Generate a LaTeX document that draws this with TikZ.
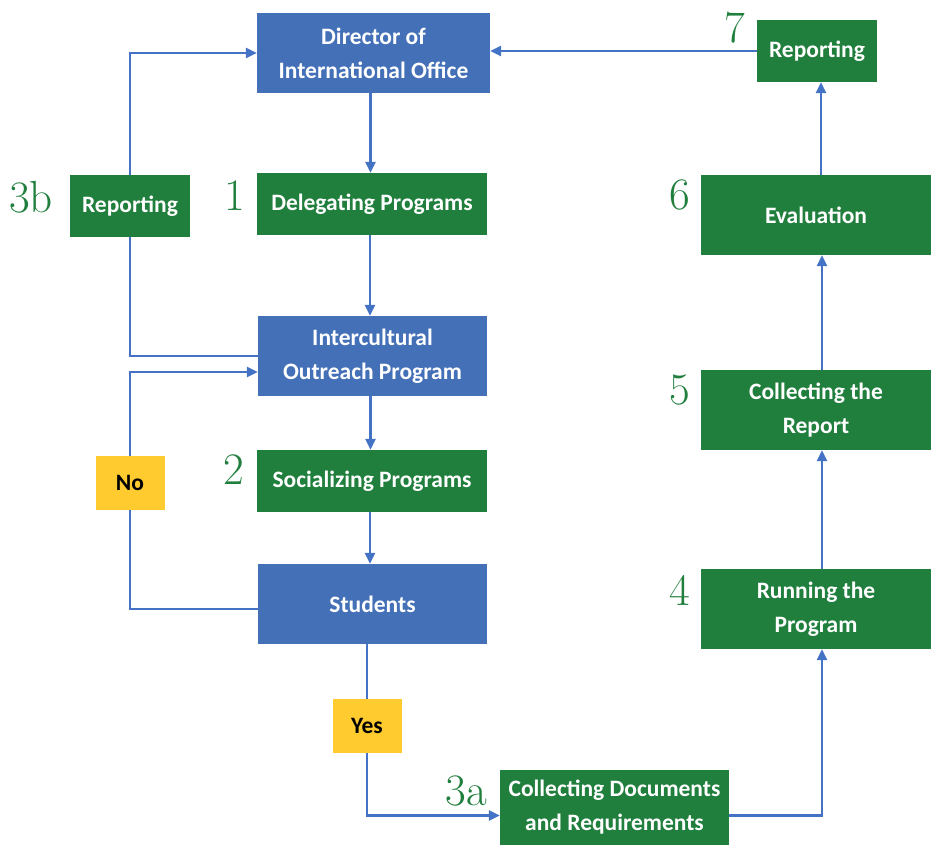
\documentclass[tikz,border=0pt]{standalone}
\usepackage{fontspec}
\newfontfamily\boxfont{Carlito}
\usetikzlibrary{arrows.meta}
\definecolor{boxblue}{HTML}{4470B8}
\definecolor{boxgreen}{HTML}{217F3E}
\definecolor{noteyellow}{HTML}{FFCB2E}
\definecolor{linkblue}{HTML}{4472C4}

\begin{document}
\begin{tikzpicture}[x=1pt,y=-1pt,
  base/.style={inner sep=0pt, align=center, text=white,
    font=\boxfont\bfseries\fontsize{23.5}{34}\selectfont},
  bluebox/.style={base, fill=boxblue},
  greenbox/.style={base, fill=boxgreen},
  answer/.style={base, fill=noteyellow, text=black,
    minimum width=69pt, minimum height=54pt},
  stepno/.style={inner sep=0pt, text=boxgreen, font=\fontsize{45}{45}\selectfont},
  link/.style={draw=linkblue, line width=2.4pt},
  arr/.style={link, -{Triangle[length=11pt,width=10pt]}},
]
\useasboundingbox (0,0) rectangle (932,845);

% left column
\node[bluebox, minimum width=233pt, minimum height=80pt] (dir) at (373.5,53)
  {Director of\\International Office};
\node[greenbox, minimum width=230pt, minimum height=62pt] (del) at (372,204)
  {Delegating Programs};
\node[bluebox, minimum width=229pt, minimum height=80pt] (ioc) at (372.5,356)
  {Intercultural\\Outreach Program};
\node[greenbox, minimum width=230pt, minimum height=62pt] (soc) at (372,481)
  {Socializing Programs};
\node[bluebox, minimum width=229pt, minimum height=80pt] (stu) at (372.5,604)
  {Students};
\node[greenbox, minimum width=120pt, minimum height=62pt] (rep3b) at (130,206)
  {Reporting};

% decisions
\node[answer] (no) at (130,483) {No};
\node[answer] (yes) at (367,726) {Yes};

% right column
\node[greenbox, minimum width=229pt, minimum height=75pt] (docs) at (614.5,807.5)
  {Collecting Documents\\and Requirements};
\node[greenbox, minimum width=230pt, minimum height=80pt] (run) at (816,609)
  {Running the\\Program};
\node[greenbox, minimum width=230pt, minimum height=80pt] (rpt) at (816,410)
  {Collecting the\\Report};
\node[greenbox, minimum width=230pt, minimum height=80pt] (eva) at (816,215)
  {Evaluation};
\node[greenbox, minimum width=120pt, minimum height=62pt] (rep7) at (817,51)
  {Reporting};

% step numbers
\node[stepno] (n3b) at (31,197) {3b};
\node[stepno] (n1) at (235,196) {1};
\node[stepno] (n2) at (234,470) {2};
\node[stepno] (n3a) at (466,791) {3a};
\node[stepno] (n4) at (680,590) {4};
\node[stepno] (n5) at (680,390) {5};
\node[stepno] (n6) at (680,195) {6};
\node[stepno] (n7) at (735,28) {7};

% main flow
\draw[arr] ([xshift=-3pt]dir.south) -- ([xshift=-3pt]dir.south |- del.north);
\draw[arr] ([xshift=-2pt]del.south) -- ([xshift=-2pt]del.south |- ioc.north);
\draw[arr] ([xshift=-2pt]ioc.south) -- ([xshift=-2pt]ioc.south |- soc.north);
\draw[arr] ([xshift=-2pt]soc.south) -- ([xshift=-2pt]soc.south |- stu.north);

% decision branches
\draw[link] (yes.north |- stu.south) -- (yes.north);
\draw[arr] (yes.south) |- ([yshift=-8pt]docs.west);
\draw[link] ([yshift=-5pt]stu.west) -| (no.south);
\draw[arr] (no.north) |- ([yshift=-16pt]ioc.west);

% reporting loop on the left
\draw[link] (ioc.west) -| (rep3b.south);
\draw[arr] (rep3b.north) |- (dir.west);

% right column flow
\draw[arr] ([yshift=-8pt]docs.east) -| ([xshift=6pt]run.south);
\draw[arr] ([xshift=6pt]run.north) -- ([xshift=6pt]rpt.south);
\draw[arr] ([xshift=6pt]rpt.north) -- ([xshift=6pt]eva.south);
\draw[arr] ([xshift=5pt]eva.north) -- ([xshift=5pt]eva.north |- rep7.south);
\draw[arr] (rep7.west) -- (rep7.west -| dir.east);
\end{tikzpicture}
\end{document}
